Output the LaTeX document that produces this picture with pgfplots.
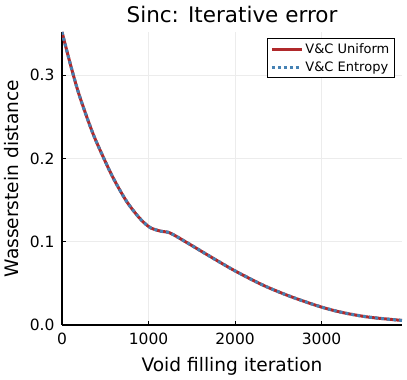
\documentclass[border=0pt]{standalone}
\usepackage{pgfplots}
\pgfplotsset{compat=1.18}
\usepackage{fontspec}
\setmainfont{DejaVu Sans}
\definecolor{vcred}{HTML}{B0292B}
\definecolor{vcblue}{HTML}{4682B4}

\pgfplotstableread{
x y
0 0.352
100 0.312
200 0.276
350 0.232
480 0.201
600 0.175
750 0.148
900 0.128
1020 0.117
1150 0.1125
1250 0.1105
1460 0.098
1750 0.080
2000 0.065
2300 0.049
2500 0.040
2700 0.032
3000 0.0215
3250 0.0148
3550 0.0094
3930 0.0055
}\errdata

\begin{document}
\begin{tikzpicture}
\begin{axis}[
  name=ax,
  scale only axis,
  width=340pt, height=293pt,
  xmin=0, xmax=3930,
  ymin=0, ymax=0.352,
  xtick={0,1000,2000,3000},
  ytick={0,0.1,0.2,0.3},
  /pgf/number format/assume math mode=true,
  /pgf/number format/1000 sep={},
  yticklabel style={/pgf/number format/fixed,/pgf/number format/precision=1,/pgf/number format/fixed zerofill,xshift=-4pt},
  xticklabel style={yshift=-4pt},
  ticklabel style={font=\fontsize{15.5}{17}\selectfont},
  axis lines=left,
  axis line style={line width=1.3pt,-},
  tick style={black,line width=1pt},
  tick align=inside,
  major tick length=4pt,
  grid=major,
  grid style={gray!15,line width=0.6pt},
  title={Sinc: Iterative error},
  title style={font=\fontsize{21.5}{24}\selectfont},
  xlabel={Void filling iteration},
  ylabel={Wasserstein distance},
  label style={font=\fontsize{18.6}{21}\selectfont},
  xlabel style={yshift=-6pt},
  ylabel style={yshift=4pt},
  legend style={at={(0.979,0.98)},anchor=north east,draw=black,line width=1pt,
    font=\fontsize{13}{15}\selectfont,row sep=3pt,inner sep=3pt},
  legend cell align=left,
  legend image code/.code={\draw[#1,line width=3pt] (0pt,0pt) -- (30pt,0pt);},
]
\addplot[vcred,line width=3pt,smooth] table[x=x,y=y] {\errdata};
\addlegendentry{V\&C Uniform}
\addplot[vcblue,line width=3pt,smooth,dash pattern=on 3pt off 3pt] table[x=x,y=y] {\errdata};
\addlegendentry{V\&C Entropy}
\end{axis}
\pgfresetboundingbox
\useasboundingbox ([xshift=-62pt,yshift=-55pt]ax.south west) rectangle ([xshift=5pt,yshift=32pt]ax.north east);
\end{tikzpicture}
\end{document}
